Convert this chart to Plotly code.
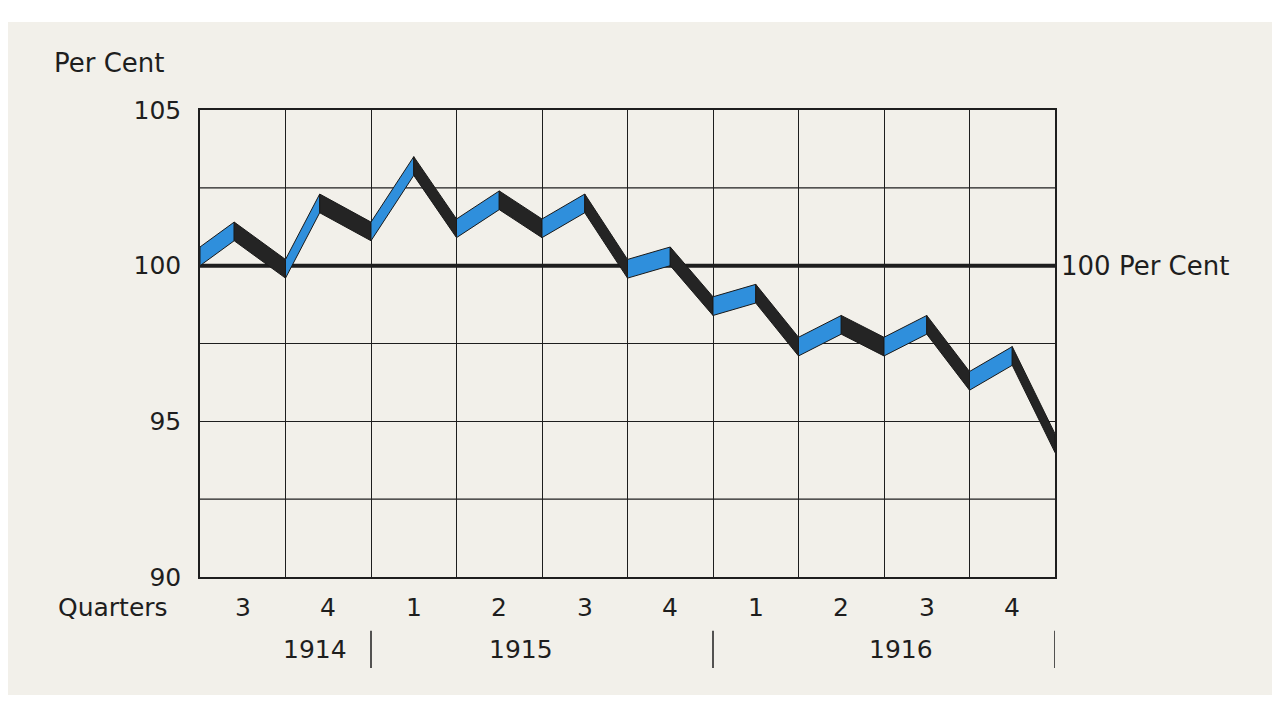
import plotly.graph_objects as go

# ribbon turning points (x in quarter columns, y in per cent, top edge)
pos = [0, 0.4, 1.0, 1.4, 2.0, 2.5, 3.0, 3.5, 4.0, 4.5, 5.0, 5.5, 6.0, 6.5, 7.0, 7.5, 8.0, 8.5, 9.0, 9.5, 10.0]
pct = [100.6, 101.4, 100.2, 102.3, 101.4, 103.5, 101.5, 102.4, 101.5, 102.3, 100.2,
       100.6, 99.0, 99.4, 97.7, 98.4, 97.7, 98.4, 96.6, 97.4, 94.6]
quarters = ["3", "4", "1", "2", "3", "4", "1", "2", "3", "4"]
years = ["1914", "1915", "1916"]
year_pos = [1.35, 3.75, 8.2]
year_breaks = [2.0, 6.0, 10.0]

band = 0.6
font = "DejaVu Sans"
ink = "#1e1e1e"

fig = go.Figure()
for i in range(len(pos) - 1):
    x0, x1 = pos[i], pos[i + 1]
    y0, y1 = pct[i], pct[i + 1]
    color = "#2f8fdc" if y1 > y0 else "#242424"
    fig.add_trace(go.Scatter(
        x=[x0, x1, x1, x0, x0], y=[y0, y1, y1 - band, y0 - band, y0],
        fill="toself", fillcolor=color, mode="lines",
        line=dict(color="#1a1a1a", width=1), hoverinfo="skip", showlegend=False))

fig.update_xaxes(range=[0, 10], dtick=1, showgrid=True, gridcolor=ink, gridwidth=1.2,
                 showticklabels=False, zeroline=False, mirror=True, showline=True,
                 linecolor=ink, linewidth=1.5)
fig.update_yaxes(range=[90, 105], dtick=2.5, showgrid=True, gridcolor=ink, gridwidth=1.2,
                 tickvals=[90, 95, 100, 105], ticktext=["90", "95", "100", "105"],
                 tickfont=dict(family=font, size=25, color=ink), ticks="outside",
                 ticklen=12, tickcolor="rgba(0,0,0,0)",
                 zeroline=False, mirror=True, showline=True, linecolor=ink, linewidth=1.5)
for v in [92.5, 97.5, 102.5]:
    fig.add_hline(y=v, line=dict(color=ink, width=1.2), layer="below")
fig.add_hline(y=100, line=dict(color=ink, width=4), layer="below")

ann = [
    dict(x=-0.173, y=1.137, xref="paper", yref="paper", text="Per Cent", xanchor="left",
         showarrow=False, font=dict(family=font, size=26, color=ink)),
    dict(x=1.005, y=100, xref="paper", yref="y", text="100 Per Cent", xanchor="left",
         showarrow=False, font=dict(family=font, size=26, color=ink)),
    dict(x=-0.035, y=-0.1, xref="paper", yref="paper", text="Quarters", xanchor="right",
         showarrow=False, font=dict(family=font, size=25, color=ink)),
]
for i, q in enumerate(quarters):
    ann.append(dict(x=i + 0.5, y=-0.1, xref="x", yref="paper", text=q, showarrow=False,
                    font=dict(family=font, size=25, color=ink)))
for yr, xp in zip(years, year_pos):
    ann.append(dict(x=xp, y=-0.19, xref="x", yref="paper", text=yr, showarrow=False,
                    font=dict(family=font, size=25, color=ink)))
fig.update_layout(annotations=ann)

shapes = [dict(type="line", xref="x", yref="paper", x0=b, x1=b, y0=-0.115, y1=-0.195,
               line=dict(color=ink, width=1.5)) for b in year_breaks]
shapes += [
    dict(type="rect", xref="paper", yref="paper", x0=-0.3, x1=1.3, y0=1.1884, y1=1.3,
         fillcolor="white", line=dict(width=0), layer="above"),
    dict(type="rect", xref="paper", yref="paper", x0=-0.3, x1=1.3, y0=-0.4, y1=-0.2527,
         fillcolor="white", line=dict(width=0), layer="above"),
]
fig.update_layout(shapes=list(fig.layout.shapes) + shapes)

fig.update_layout(width=1280, height=720, margin=dict(l=192, r=233, t=102, b=151),
                  paper_bgcolor="#f2f0ea", plot_bgcolor="#f2f0ea")
fig.write_html("out.html")
